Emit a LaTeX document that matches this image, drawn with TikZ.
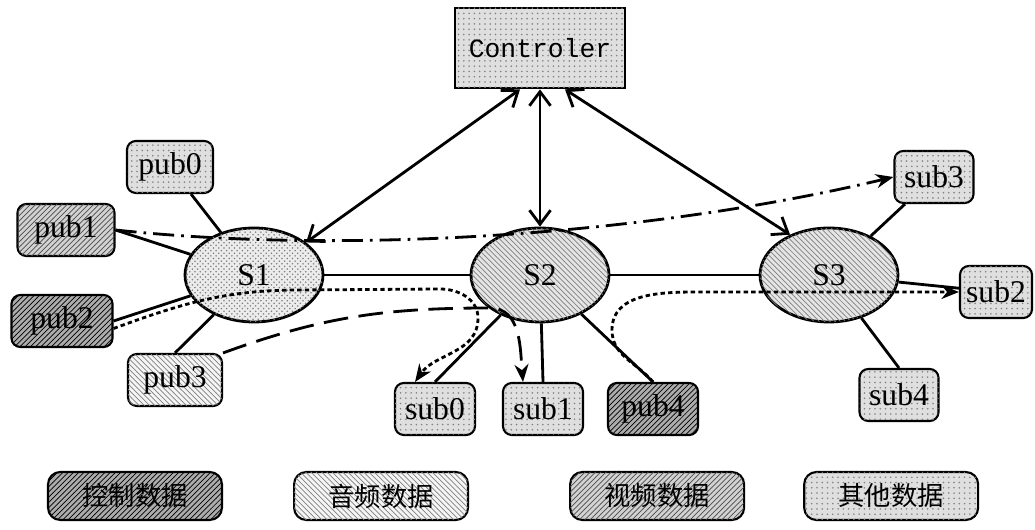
\documentclass[tikz,border=0pt]{standalone}
\usepackage{fontspec}
\setmainfont{Liberation Serif}
\setmonofont{Liberation Mono}
\newfontfamily\cjk{Noto Sans CJK SC}
\usetikzlibrary{shapes.geometric,patterns,arrows.meta,positioning}

\tikzset{
	box/.style={draw, line width=1.2pt, rounded corners=5pt, minimum height=1.04cm, minimum width=1.6cm, inner sep=1pt, font=\fontsize{18}{20}\selectfont},
	switch/.style={ellipse, draw, line width=1.6pt, minimum width=2.76cm, minimum height=1.88cm, inner sep=0pt, font=\fontsize{18}{20}\selectfont},
	legend/.style={draw, line width=1.2pt, rounded corners=7pt, minimum width=3.48cm, minimum height=0.96cm, font=\cjk\fontsize{15}{18}\selectfont},
	ctrldata/.style={fill=gray!65, postaction={pattern=north east lines, pattern color=black}},
	audiodata/.style={fill=gray!8, postaction={pattern=north west lines, pattern color=gray}},
	videodata/.style={fill=gray!35, postaction={pattern=north east lines, pattern color=gray!60!black}},
	otherdata/.style={fill=gray!25, postaction={pattern=dots, pattern color=gray}},
	link/.style={line width=1.6pt},
	ctrllink/.style={line width=1.6pt, {Straight Barb[length=8pt,width=12pt]}-{Straight Barb[length=8pt,width=12pt]}},
	flow/.style={line width=1.6pt, -{Stealth[length=10pt,width=8pt]}}
}

\begin{document}
\begin{tikzpicture}[x=0.02cm, y=0.02cm]
	\useasboundingbox (0,0) rectangle (1035,530);
	\node[draw, line width=1.6pt, otherdata, minimum width=3.4cm, minimum height=1.6cm, font=\ttfamily\fontsize{15}{18}\selectfont] (ctrl) at (540,482) {Controler};
	\node[switch, fill=gray!15, postaction={pattern=crosshatch dots, pattern color=gray}] (s1) at (254,255) {S1};
	\node[switch, fill=gray!20, postaction={pattern=north west lines, pattern color=gray}] (s2) at (540,255) {S2};
	\node[switch, fill=gray!20, postaction={pattern=north west lines, pattern color=gray}] (s3) at (829,255) {S3};
	\node[box, otherdata, minimum width=1.72cm] (pub0) at (170,363) {pub0};
	\node[box, videodata, minimum width=1.94cm] (pub1) at (66,300) {pub1};
	\node[box, ctrldata, minimum width=2.02cm] (pub2) at (62,209) {pub2};
	\node[box, audiodata, minimum width=1.88cm] (pub3) at (175,150) {pub3};
	\node[box, otherdata] (sub0) at (435,121) {sub0};
	\node[box, otherdata] (sub1) at (543,121) {sub1};
	\node[box, ctrldata, minimum width=1.8cm] (pub4) at (653,121) {pub4};
	\node[box, otherdata, minimum width=1.58cm] (sub3) at (934,353) {sub3};
	\node[box, otherdata, minimum width=1.44cm] (sub2) at (996,238) {sub2};
	\node[box, otherdata, minimum width=1.58cm] (sub4) at (899,135) {sub4};
	\draw[ctrllink] ([xshift=-0.4cm]ctrl.south) -- (s1.32);
	\draw[ctrllink] (ctrl.south) -- (s2.north);
	\draw[ctrllink] ([xshift=0.5cm]ctrl.south) -- (s3.134);
	\draw[link] (s1) -- (s2);
	\draw[link] (s2) -- (s3);
	\draw[link] (pub0) -- (s1);
	\draw[link] (pub1.east) -- (s1);
	\draw[link] (pub2.east) -- (s1);
	\draw[link] (pub3.north) -- (s1);
	\draw[link] (s2) -- (sub0.north);
	\draw[link] (s2) -- (sub1.north);
	\draw[link] (s2) -- (pub4.north);
	\draw[link] (sub3) -- (s3);
	\draw[link] (s3) -- (sub2);
	\draw[link] (sub4.north) -- (s3);
	\draw[flow, dash pattern=on 12pt off 4pt on 1.5pt off 4pt] (pub1.east) .. controls (350,275) and (650,295) .. (sub3.west);
	\draw[flow, dash pattern=on 2.5pt off 1.8pt] ([yshift=-0.15cm]pub2.east) to[out=20,in=180] (300,240) -- (440,241) to[out=0,in=90] (478,212) to[out=-90,in=55] ([xshift=-0.4cm]sub0.north);
	\draw[flow, dash pattern=on 2.5pt off 1.8pt] (pub4.north) to[out=130,in=-90] (612,200) to[out=90,in=180] (700,238) -- (sub2.west);
	\draw[flow, dash pattern=on 14pt off 6pt] (pub3.north east) to[out=20,in=180] (490,222) to[out=0,in=95] ([xshift=-0.4cm]sub1.north);
	\node[legend, ctrldata] (lctrl) at (135,34) {控制数据};
	\node[legend, audiodata, right=1.4cm of lctrl] (laudio) {音频数据};
	\node[legend, videodata, right=2cm of laudio] (lvideo) {视频数据};
	\node[legend, otherdata, right=1.16cm of lvideo] (lother) {其他数据};
\end{tikzpicture}
\end{document}
